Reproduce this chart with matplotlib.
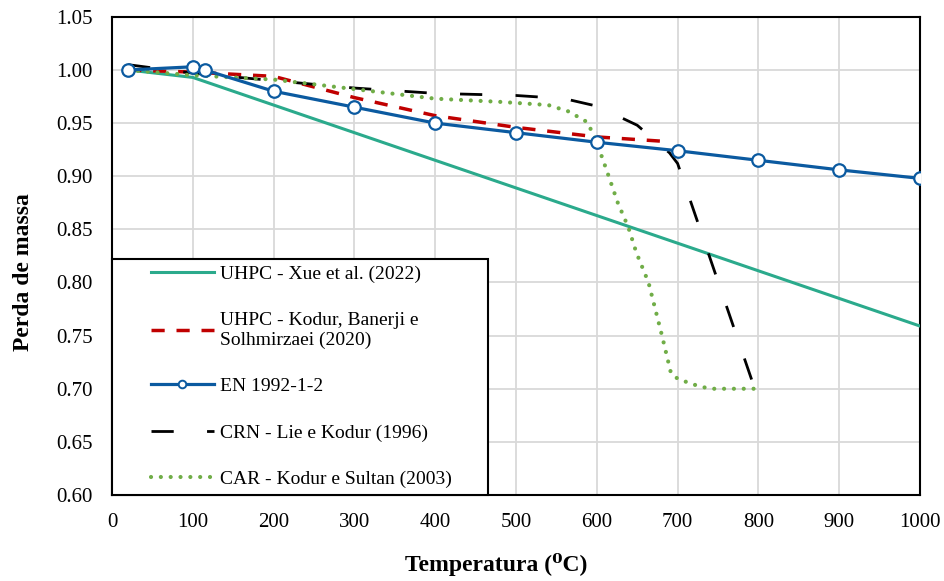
import matplotlib.pyplot as plt
from matplotlib.lines import Line2D
from matplotlib.legend_handler import HandlerLine2D

plt.rcParams['font.family'] = ['Liberation Serif', 'DejaVu Serif']

# UHPC - Xue et al. (2022)
xue_t = [20, 100, 200, 300, 400, 500, 600, 700, 800, 900, 1000]
xue_m = [1.000, 0.993, 0.967, 0.941, 0.915, 0.889, 0.863, 0.837, 0.811, 0.785, 0.759]

# UHPC - Kodur, Banerji e Solhmirzaei (2020)
kbs_t = [20, 100, 200, 300, 400, 500, 600, 680]
kbs_m = [1.000, 0.998, 0.994, 0.974, 0.957, 0.946, 0.937, 0.933]

# EN 1992-1-2
en_t = [20, 100, 115, 200, 300, 400, 500, 600, 700, 800, 900, 1000]
en_m = [1.000, 1.003, 1.000, 0.980, 0.965, 0.950, 0.941, 0.932, 0.924, 0.915, 0.906, 0.898]

# CRN - Lie e Kodur (1996)
crn_t = [20, 100, 200, 300, 400, 500, 560, 600, 650, 690, 700, 800]
crn_m = [1.005, 0.997, 0.990, 0.983, 0.978, 0.976, 0.973, 0.966, 0.948, 0.922, 0.912, 0.690]

# CAR - Kodur e Sultan (2003)
car_t = [20, 100, 200, 300, 400, 480, 540, 565, 588, 598, 612, 626, 639, 649,
         664, 681, 692, 701, 724, 740, 800]
car_m = [1.000, 0.995, 0.991, 0.982, 0.973, 0.970, 0.967, 0.961, 0.951, 0.936,
         0.906, 0.875, 0.852, 0.828, 0.800, 0.749, 0.714, 0.709, 0.703, 0.700, 0.700]

x_ticks = list(range(0, 1001, 100))
y_ticks = [0.60, 0.65, 0.70, 0.75, 0.80, 0.85, 0.90, 0.95, 1.00, 1.05]


class ShiftedLine(HandlerLine2D):
    # draw the legend sample only on the right part of the handle box
    def __init__(self, shift, **kw):
        super().__init__(**kw)
        self.shift = shift

    def create_artists(self, legend, orig_handle, xdescent, ydescent,
                       width, height, fontsize, trans):
        return super().create_artists(legend, orig_handle,
                                      xdescent - self.shift, ydescent,
                                      width - self.shift, height,
                                      fontsize, trans)


fig = plt.figure(figsize=(9.44, 5.81), dpi=100)
ax = fig.add_axes([0.1186, 0.148, 0.856, 0.823])

ax.plot(xue_t, xue_m, color='#2BAA8C', lw=2.2, zorder=3)
ax.plot(kbs_t, kbs_m, color='#C00000', lw=2.5, dashes=(3.8, 3.4), zorder=4)
ax.plot(crn_t, crn_m, color='black', lw=2.0, dashes=(8, 12), zorder=4)
ax.plot(car_t, car_m, color='#70AD47', lw=3.0, dashes=(0.01, 2.35),
        dash_capstyle='round', zorder=5)
ax.plot(en_t, en_m, color='#0B5AA0', lw=2.3, marker='o', ms=9,
        mfc='white', mec='#0B5AA0', mew=1.6, zorder=6)

ax.set_xlim(0, 1000)
ax.set_ylim(0.60, 1.05)
ax.set_xticks(x_ticks)
ax.set_yticks(y_ticks)
ax.set_yticklabels([f'{v:.2f}' for v in y_ticks])
ax.tick_params(length=0, labelsize=15)
ax.tick_params(axis='y', pad=14)
ax.tick_params(axis='x', pad=13)
ax.grid(True, color='#D9D9D9', lw=1.3)
ax.set_axisbelow(True)
for s in ax.spines.values():
    s.set_linewidth(1.5)
    s.set_color('black')

ax.set_xlabel('Temperatura (⁰C)', fontsize=17, fontweight='bold')
ax.xaxis.set_label_coords(0.475, -0.122)
ax.set_ylabel('Perda de massa', fontsize=17, fontweight='bold')
ax.yaxis.set_label_coords(-0.096, 0.467)

handles = [
    Line2D([], [], color='#2BAA8C', lw=2.2),
    Line2D([], [], color='#C00000', lw=2.5, dashes=(3.8, 3.4)),
    Line2D([], [], color='#0B5AA0', lw=2.3, marker='o', ms=5.5,
           mfc='white', mec='#0B5AA0', mew=1.4),
    Line2D([], [], color='black', lw=2.0, dashes=(8, 12)),
    Line2D([], [], color='#70AD47', lw=3.0, dashes=(0.01, 2.35),
           dash_capstyle='round'),
]
labels = [
    'UHPC - Xue et al. (2022)',
    'UHPC - Kodur, Banerji e\nSolhmirzaei (2020)',
    'EN 1992-1-2',
    'CRN - Lie e Kodur (1996)',
    'CAR - Kodur e Sultan (2003)',
]
leg = ax.legend(handles, labels, loc='lower left',
                bbox_to_anchor=(0.0, 0.0, 0.465, 0.496), mode='expand',
                fontsize=14, frameon=True, fancybox=False, framealpha=1,
                edgecolor='black', handlelength=4.9, handletextpad=0.3,
                labelspacing=1.48, borderpad=0.35, borderaxespad=0.0,
                handler_map={Line2D: ShiftedLine(23.0)})
leg.get_frame().set_linewidth(1.5)
leg.set_zorder(10)

fig.savefig('out.png', dpi=100)
